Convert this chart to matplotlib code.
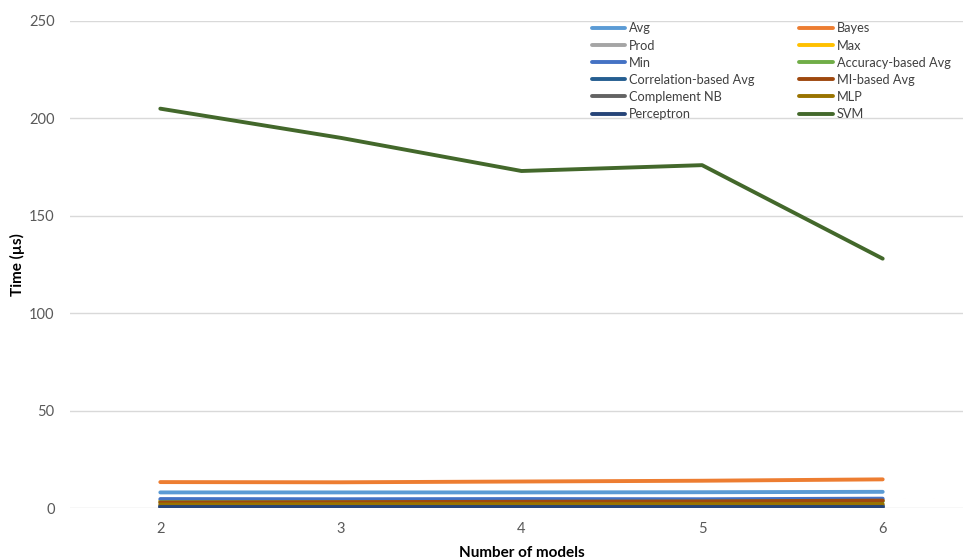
import matplotlib
matplotlib.use("Agg")
import matplotlib.pyplot as plt

plt.rcParams['font.family'] = ['Lato', 'DejaVu Sans']

n_models = [2, 3, 4, 5, 6]

series_names = [
    "Avg", "Bayes", "Prod", "Max", "Min", "Accuracy-based Avg",
    "Correlation-based Avg", "MI-based Avg", "Complement NB", "MLP",
    "Perceptron", "SVM",
]

avg = [8.0, 8.0, 8.0, 8.1, 8.3]
bayes = [13.3, 13.2, 13.6, 14.0, 14.7]
prod = [3.8, 3.8, 3.9, 3.9, 4.1]
max_ = [3.5, 3.5, 3.6, 3.6, 3.8]
min_ = [4.6, 4.5, 4.6, 4.5, 4.8]
acc_avg = [3.0, 3.0, 3.1, 3.2, 3.4]
corr_avg = [1.0, 1.0, 1.0, 1.0, 1.1]
mi_avg = [2.8, 3.0, 3.2, 3.4, 3.8]
complement_nb = [1.2, 1.2, 1.2, 1.3, 1.3]
mlp = [1.8, 2.0, 2.0, 2.0, 2.0]
perceptron = [0.3, 0.3, 0.3, 0.3, 0.3]
svm = [205, 190, 173, 176, 128]

series_values = [avg, bayes, prod, max_, min_, acc_avg, corr_avg, mi_avg,
                 complement_nb, mlp, perceptron, svm]

colors = ["#5B9BD5", "#ED7D31", "#A5A5A5", "#FFC000", "#4472C4", "#70AD47",
          "#255E91", "#9E480E", "#636363", "#997300", "#264478", "#43682B"]

y_ticks = [0, 50, 100, 150, 200, 250]

W, H = 963, 558
fig = plt.figure(figsize=(W / 100, H / 100), dpi=100)
left, right, top, bottom = 70, 973, 21, 508
ax = fig.add_axes([left / W, (H - bottom) / H, (right - left) / W, (bottom - top) / H])

xs = list(range(len(n_models)))
handles = []
for name, vals, c in zip(series_names, series_values, colors):
    h, = ax.plot(xs, vals, color=c, lw=2.8, solid_capstyle='round', label=name)
    handles.append(h)

ax.set_xlim(-0.5, len(n_models) - 0.5)
ax.set_ylim(0, 250)
ax.set_yticks(y_ticks)
ax.set_xticks(xs)
ax.set_xticklabels([str(v) for v in n_models])
ax.yaxis.grid(True, color="#D9D9D9", lw=1)
ax.set_axisbelow(True)
for s in ax.spines.values():
    s.set_visible(False)
ax.tick_params(axis='both', length=0, labelsize=10.5, colors="#595959")
ax.tick_params(axis='y', pad=11)
ax.tick_params(axis='x', pad=10)

ax.set_xlabel("Number of models", fontsize=11, fontweight='bold', color="#000000", labelpad=7)
ax.set_ylabel("Time (µs)", fontsize=11, fontweight='bold', color="#000000")
ax.yaxis.set_label_coords((25 - left) / (right - left), 0.5)

order = list(range(0, 12, 2)) + list(range(1, 12, 2))
leg = fig.legend([handles[i] for i in order], [series_names[i] for i in order],
                 ncol=2, frameon=False, fontsize=9.2, handlelength=2.6,
                 columnspacing=3.5, labelspacing=0.4, handletextpad=0.35,
                 loc='upper left', bbox_to_anchor=(580 / W, 1 - 11 / H))
for t in leg.get_texts():
    t.set_color("#404040")

fig.savefig("out.png", dpi=100)
